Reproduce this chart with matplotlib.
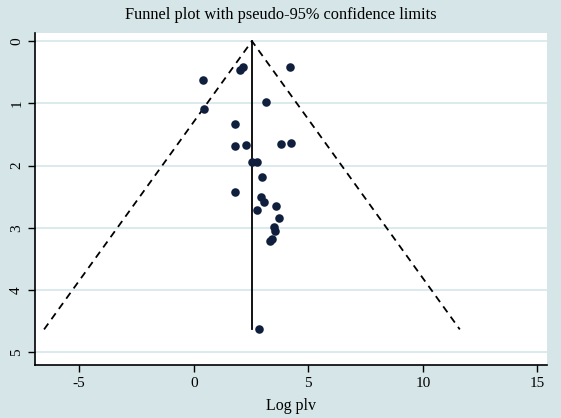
import numpy as np
import matplotlib
matplotlib.use("Agg")
import matplotlib.pyplot as plt

# study estimates (log plv) and their standard errors
log_plv = [0.40, 0.45, 2.03, 2.17, 4.20, 3.16, 1.81, 1.81, 2.26, 3.83, 4.25,
           2.54, 2.78, 2.99, 1.81, 2.93, 3.07, 2.75, 3.58, 3.70, 3.51, 3.54,
           3.31, 3.41, 2.84]
se = [0.63, 1.09, 0.47, 0.41, 0.42, 0.97, 1.33, 1.68, 1.67, 1.65, 1.64,
      1.94, 1.94, 2.18, 2.42, 2.50, 2.59, 2.72, 2.65, 2.84, 2.99, 3.05,
      3.21, 3.17, 4.63]
pooled = 2.54
x_ticks = [-5, 0, 5, 10, 15]
y_ticks = [0, 1, 2, 3, 4, 5]

bg = "#d5e5e8"
grid_col = "#d4e6ea"
dot_col = "#0f1f3d"

plt.rcParams["font.family"] = ["Liberation Serif", "DejaVu Serif"]
plt.rcParams["axes.unicode_minus"] = False

fig = plt.figure(figsize=(5.61, 4.18), dpi=100, facecolor=bg)
ax = fig.add_axes([0.0624, 0.127, 0.9126, 0.794])
ax.set_facecolor("white")

se_max = max(se)
ax.plot([pooled, pooled], [0, se_max], color="black", lw=1.3)
ax.plot([pooled - 1.96 * se_max, pooled, pooled + 1.96 * se_max],
        [se_max, 0, se_max], color="black", lw=1.3, ls=(0, (4, 3)))
ax.scatter(log_plv, se, s=38, color=dot_col, zorder=3, linewidths=0)

ax.set_xlim(-6.93, 15.42)
ax.set_ylim(5.2, -0.13)
ax.set_xticks(x_ticks)
ax.set_yticks(y_ticks)
ax.grid(axis="y", color=grid_col, lw=1.2)
ax.set_axisbelow(True)

for s in ["top", "right"]:
    ax.spines[s].set_visible(False)
for s in ["left", "bottom"]:
    ax.spines[s].set_linewidth(1.2)

ax.tick_params(axis="both", direction="out", length=5, width=1, labelsize=11)
for lab in ax.get_yticklabels():
    lab.set_rotation(90)
    lab.set_va("center")

ax.set_xlabel("Log plv", fontsize=11.5, labelpad=6)
fig.text(0.5, 0.963, "Funnel plot with pseudo-95% confidence limits",
         ha="center", va="center", fontsize=11.8)

fig.savefig("out.png", dpi=100, facecolor=bg)
